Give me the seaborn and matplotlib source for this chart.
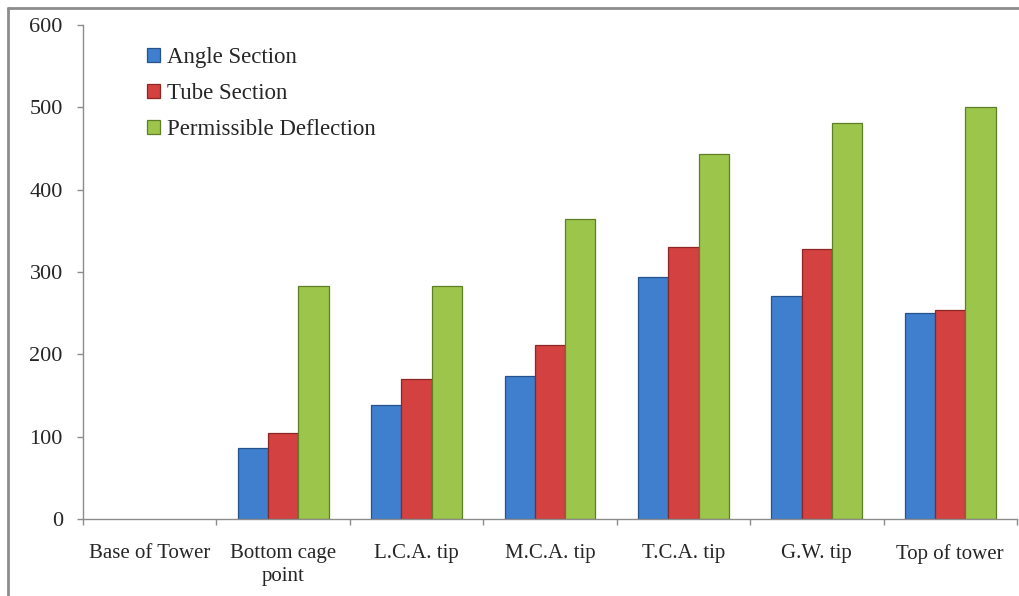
import matplotlib
matplotlib.use("Agg")
import matplotlib.pyplot as plt
import seaborn as sns
import pandas as pd
from matplotlib.lines import Line2D
from matplotlib.ticker import FixedLocator

categories = ["Base of Tower", "Bottom cage\npoint", "L.C.A. tip", "M.C.A. tip",
              "T.C.A. tip", "G.W. tip", "Top of tower"]
angle_section = [0, 86, 138, 174, 294, 271, 250]
tube_section = [0, 104, 170, 211, 330, 328, 254]
permissible = [0, 283, 283, 364, 443, 481, 500]
series_names = ["Angle Section", "Tube Section", "Permissible Deflection"]
y_ticks = [0, 100, 200, 300, 400, 500, 600]

rows = []
for name, vals in zip(series_names, [angle_section, tube_section, permissible]):
    for c, v in zip(categories, vals):
        rows.append({"cat": c, "series": name, "value": v})
df = pd.DataFrame(rows)

sns.set_style("white")
plt.rcParams["font.family"] = ["Liberation Serif", "DejaVu Serif"]

fig = plt.figure(figsize=(10.19, 5.96), dpi=100)
ax = fig.add_axes([83/1019, 1 - 519/596, (1017-83)/1019, (519-25)/596])

colors = ["#3F7FCE", "#D34141", "#9CC64B"]
edges = ["#25528A", "#8E2624", "#5E7E26"]
sns.barplot(data=df, x="cat", y="value", hue="series", palette=colors,
            width=0.68, gap=0, ax=ax, saturation=1, linewidth=0.9)

for i, cont in enumerate(ax.containers):
    for p in cont:
        p.set_edgecolor(edges[i])
        if p.get_height() == 0:
            p.set_linewidth(0)

ax.set_ylim(0, 600)
ax.set_xlim(-0.5, len(categories) - 0.5)
ax.set_yticks(y_ticks)
ax.set_xlabel("")
ax.set_ylabel("")

for s in ["top", "right"]:
    ax.spines[s].set_visible(False)
for s in ["left", "bottom"]:
    ax.spines[s].set_color("#8C8C8C")
    ax.spines[s].set_linewidth(1.0)

ax.tick_params(axis="y", which="major", length=4.5, color="#8C8C8C", width=1,
               labelsize=16, pad=10, direction="out", left=True)
ax.tick_params(axis="x", which="major", length=0, labelsize=15, pad=18)
ax.xaxis.set_minor_locator(FixedLocator([i - 0.5 for i in range(len(categories) + 1)]))
ax.tick_params(axis="x", which="minor", length=4.5, color="#8C8C8C", width=1,
               direction="out", bottom=True)
for lbl in ax.get_xticklabels():
    lbl.set_linespacing(1.3)

leg = ax.legend(loc="upper left", bbox_to_anchor=(0.059, 0.974), frameon=False,
                fontsize=16.5, handlelength=0.55, handleheight=0.55,
                handletextpad=0.3, labelspacing=0.66, borderaxespad=0)
for h, ec in zip(leg.legend_handles, edges):
    h.set_edgecolor(ec)

# outer chart-area frame (left and top edges visible)
fig.add_artist(Line2D([8/1019, 8/1019], [0, 1 - 8/596], transform=fig.transFigure,
                      color="#8C8C8C", lw=2))
fig.add_artist(Line2D([8/1019, 1], [1 - 8/596, 1 - 8/596], transform=fig.transFigure,
                      color="#8C8C8C", lw=2))

fig.savefig("out.png", dpi=100)
